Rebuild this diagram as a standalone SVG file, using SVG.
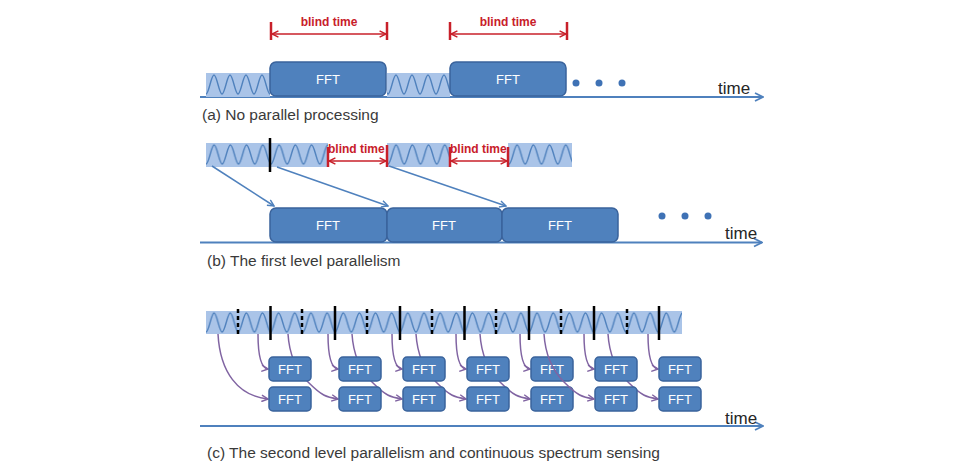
<svg xmlns="http://www.w3.org/2000/svg" width="964" height="464" viewBox="0 0 964 464">
<style>
.wave{fill:none;stroke:#4f81bd;stroke-width:1.4}
.bandbg{fill:#aac4e8}
.fft{fill:#4f81bd;stroke:#3a639c;stroke-width:1.5}
.fftt{font-family:"Liberation Sans",Arial,sans-serif;font-size:13px;fill:#fff;text-anchor:middle}
.axis{fill:none;stroke:#4f81bd;stroke-width:2;marker-end:url(#ahAxis)}
.time{font-family:"Liberation Sans",Arial,sans-serif;font-size:17px;fill:#262626}
.cap{font-family:"Liberation Sans",Arial,sans-serif;font-size:15.5px;fill:#3a3a3a}
.blind{font-family:"Liberation Sans",Arial,sans-serif;font-size:12px;font-weight:bold;fill:#c8202a}
.rbar{stroke:#c8202a;stroke-width:2.5}
.rarr{fill:none;stroke:#c8202a;stroke-width:1.3;marker-start:url(#ahRed);marker-end:url(#ahRed)}
.bconn{fill:none;stroke:#4f81bd;stroke-width:1.5;marker-end:url(#ahBlue)}
.pconn{fill:none;stroke:#8064a2;stroke-width:1.5}
.parr{marker-end:url(#ahPurple)}
.cut{stroke:#000;stroke-width:2.5}
.cutd{stroke:#000;stroke-width:2.5;stroke-dasharray:4 3}
.dot{fill:#3f72b5}
</style>
<defs>
<marker id="ahAxis" viewBox="0 0 10 10" refX="9" refY="5" markerWidth="10" markerHeight="10" markerUnits="userSpaceOnUse" orient="auto"><path d="M1,1 L9,5 L1,9" fill="none" stroke="#4f81bd" stroke-width="1.8"/></marker>
<marker id="ahBlue" viewBox="0 0 10 10" refX="9" refY="5" markerWidth="8" markerHeight="8" markerUnits="userSpaceOnUse" orient="auto"><path d="M1,1 L9,5 L1,9" fill="none" stroke="#4f81bd" stroke-width="1.8"/></marker>
<marker id="ahRed" viewBox="0 0 10 10" refX="9" refY="5" markerWidth="8" markerHeight="8" markerUnits="userSpaceOnUse" orient="auto-start-reverse"><path d="M1,1 L9,5 L1,9" fill="none" stroke="#c8202a" stroke-width="1.8"/></marker>
<marker id="ahPurple" viewBox="0 0 10 10" refX="9" refY="5" markerWidth="8" markerHeight="8" markerUnits="userSpaceOnUse" orient="auto"><path d="M1,1 L9,5 L1,9" fill="none" stroke="#8064a2" stroke-width="1.8"/></marker>
<pattern id="wA1" patternUnits="userSpaceOnUse" x="206" y="73" width="16" height="24"><rect class="bandbg" width="16" height="24"/><path class="wave" d="M0,21 c2.9,0 5.1,-19 8,-19 s5.1,19 8,19"/></pattern>
<pattern id="wA2" patternUnits="userSpaceOnUse" x="388" y="73" width="16" height="24"><rect class="bandbg" width="16" height="24"/><path class="wave" d="M0,21 c2.9,0 5.1,-19 8,-19 s5.1,19 8,19"/></pattern>
<pattern id="wB1" patternUnits="userSpaceOnUse" x="206" y="143" width="16.25" height="24"><rect class="bandbg" width="16.25" height="24"/><path class="wave" d="M0,21 c2.95,0 5.2,-19 8.125,-19 s5.2,19 8.125,19"/></pattern>
<pattern id="wB2" patternUnits="userSpaceOnUse" x="388" y="143" width="16.25" height="24"><rect class="bandbg" width="16.25" height="24"/><path class="wave" d="M0,21 c2.95,0 5.2,-19 8.125,-19 s5.2,19 8.125,19"/></pattern>
<pattern id="wB3" patternUnits="userSpaceOnUse" x="509" y="143" width="16.25" height="24"><rect class="bandbg" width="16.25" height="24"/><path class="wave" d="M0,21 c2.95,0 5.2,-19 8.125,-19 s5.2,19 8.125,19"/></pattern>
<pattern id="wC" patternUnits="userSpaceOnUse" x="206" y="311" width="16.15" height="23"><rect class="bandbg" width="16.15" height="23"/><path class="wave" d="M0,21 c2.9,0 5.2,-19 8.075,-19 s5.2,19 8.075,19"/></pattern>
</defs>
<rect width="964" height="464" fill="#fff"/>

<g id="axes">
<line class="axis" x1="200" y1="97" x2="763" y2="97"/>
<line class="axis" x1="200" y1="242.5" x2="762" y2="242.5"/>
<line class="axis" x1="200" y1="426" x2="763" y2="426"/>
<text class="time" x="718" y="94">time</text>
<text class="time" x="725" y="239">time</text>
<text class="time" x="725" y="424">time</text>
</g>

<g id="captions">
<text class="cap" x="202" y="120">(a) No parallel processing</text>
<text class="cap" x="207" y="266">(b) The first level parallelism</text>
<text class="cap" x="207" y="458">(c) The second level parallelism and continuous spectrum sensing</text>
</g>

<g id="signals">
<rect id="sigA1" x="206" y="73" width="64" height="24" fill="url(#wA1)"/>
<rect id="sigA2" x="387" y="73" width="63" height="24" fill="url(#wA2)"/>
<rect id="sigB1" x="206" y="143" width="122" height="24" fill="url(#wB1)"/>
<rect id="sigB2" x="387" y="143" width="63" height="24" fill="url(#wB2)"/>
<rect id="sigB3" x="508" y="143" width="64" height="24" fill="url(#wB3)"/>
<rect id="sigC" x="206" y="311" width="476" height="23" fill="url(#wC)"/>
</g>

<g id="cuts">
<line class="cut" x1="270" y1="138" x2="270" y2="172"/>
<line class="cut" x1="270.5" y1="306" x2="270.5" y2="340"/>
<line class="cut" x1="335" y1="306" x2="335" y2="340"/>
<line class="cut" x1="400" y1="306" x2="400" y2="340"/>
<line class="cut" x1="464.5" y1="306" x2="464.5" y2="340"/>
<line class="cut" x1="529" y1="306" x2="529" y2="340"/>
<line class="cut" x1="594" y1="306" x2="594" y2="340"/>
<line class="cut" x1="659" y1="306" x2="659" y2="340"/>
<line class="cutd" x1="238" y1="309" x2="238" y2="337"/>
<line class="cutd" x1="302" y1="309" x2="302" y2="337"/>
<line class="cutd" x1="367" y1="309" x2="367" y2="337"/>
<line class="cutd" x1="432" y1="309" x2="432" y2="337"/>
<line class="cutd" x1="496" y1="309" x2="496" y2="337"/>
<line class="cutd" x1="561" y1="309" x2="561" y2="337"/>
<line class="cutd" x1="627" y1="309" x2="627" y2="337"/>
</g>

<g id="blind-times">
<text class="blind" x="329" y="26" text-anchor="middle">blind time</text>
<line class="rbar" x1="271" y1="22" x2="271" y2="40"/>
<line class="rbar" x1="387" y1="22" x2="387" y2="40"/>
<line class="rarr" x1="272" y1="34" x2="386" y2="34"/>
<text class="blind" x="508" y="26" text-anchor="middle">blind time</text>
<line class="rbar" x1="450" y1="22" x2="450" y2="40"/>
<line class="rbar" x1="567" y1="22" x2="567" y2="40"/>
<line class="rarr" x1="451" y1="34" x2="566" y2="34"/>
<text class="blind" x="328" y="153">blind time</text>
<line class="rbar" x1="328" y1="147" x2="328" y2="167"/>
<line class="rbar" x1="387" y1="145" x2="387" y2="167"/>
<line class="rarr" x1="329" y1="161" x2="386" y2="161"/>
<text class="blind" x="450" y="153">blind time</text>
<line class="rbar" x1="450" y1="147" x2="450" y2="167"/>
<line class="rbar" x1="508" y1="147" x2="508" y2="167"/>
<line class="rarr" x1="451" y1="161" x2="507" y2="161"/>
</g>

<g id="connectors">
<line class="bconn" x1="212" y1="166" x2="274" y2="206"/>
<line class="bconn" x1="277" y1="167" x2="388" y2="206"/>
<line class="bconn" x1="389" y1="166" x2="506" y2="206"/>
<path class="pconn parr" d="M218,334 C220,372 238,396 268,399"/>
<path class="pconn parr" d="M258,334 c0,18 2,34 10,35"/>
<path class="pconn parr" d="M328,334 c0,18 2,34 10,35"/>
<path class="pconn parr" d="M392,334 c0,18 2,34 10,35"/>
<path class="pconn parr" d="M456,334 c0,18 2,34 10,35"/>
<path class="pconn parr" d="M520,334 c0,18 2,34 10,35"/>
<path class="pconn parr" d="M584,334 c0,18 2,34 10,35"/>
<path class="pconn parr" d="M648,334 c0,18 2,34 10,35"/>
<path class="pconn parr" d="M288,334 c1,16 6,34 20,48 s18,15 30,17"/>
<path class="pconn parr" d="M352,334 c1,16 6,34 20,48 s18,15 30,17"/>
<path class="pconn parr" d="M416,334 c1,16 6,34 20,48 s18,15 30,17"/>
<path class="pconn parr" d="M480,334 c1,16 6,34 20,48 s18,15 30,17"/>
<path class="pconn parr" d="M608,334 c1,16 6,34 20,48 s18,15 30,17"/>
</g>

<g id="dots">
<circle class="dot" cx="576" cy="83" r="3.5"/>
<circle class="dot" cx="599" cy="83" r="3.5"/>
<circle class="dot" cx="622" cy="83" r="3.5"/>
<circle class="dot" cx="662" cy="216" r="3.5"/>
<circle class="dot" cx="685" cy="216" r="3.5"/>
<circle class="dot" cx="708" cy="216" r="3.5"/>
</g>

<g id="fftA1"><rect class="fft" x="270" y="62" width="116" height="34" rx="6"/><text class="fftt" x="328" y="84">FFT</text></g>
<g id="fftA2"><rect class="fft" x="450" y="62" width="116" height="34" rx="6"/><text class="fftt" x="508" y="84">FFT</text></g>
<g id="fftB1"><rect class="fft" x="270" y="208" width="117" height="34" rx="6"/><text class="fftt" x="328" y="230">FFT</text></g>
<g id="fftB2"><rect class="fft" x="387" y="208" width="115" height="34" rx="6"/><text class="fftt" x="444" y="230">FFT</text></g>
<g id="fftB3"><rect class="fft" x="502" y="208" width="116" height="34" rx="6"/><text class="fftt" x="560" y="230">FFT</text></g>

<g id="fftC1u"><rect class="fft" x="269" y="357" width="42" height="24" rx="4"/><text class="fftt" x="290" y="374">FFT</text></g>
<g id="fftC1l"><rect class="fft" x="269" y="387" width="42" height="24" rx="4"/><text class="fftt" x="290" y="404">FFT</text></g>
<g id="fftC2u"><rect class="fft" x="339" y="357" width="42" height="24" rx="4"/><text class="fftt" x="360" y="374">FFT</text></g>
<g id="fftC2l"><rect class="fft" x="339" y="387" width="42" height="24" rx="4"/><text class="fftt" x="360" y="404">FFT</text></g>
<g id="fftC3u"><rect class="fft" x="403" y="357" width="42" height="24" rx="4"/><text class="fftt" x="424" y="374">FFT</text></g>
<g id="fftC3l"><rect class="fft" x="403" y="387" width="42" height="24" rx="4"/><text class="fftt" x="424" y="404">FFT</text></g>
<g id="fftC4u"><rect class="fft" x="467" y="357" width="42" height="24" rx="4"/><text class="fftt" x="488" y="374">FFT</text></g>
<g id="fftC4l"><rect class="fft" x="467" y="387" width="42" height="24" rx="4"/><text class="fftt" x="488" y="404">FFT</text></g>
<g id="fftC5u"><rect class="fft" x="531" y="357" width="42" height="24" rx="4"/><text class="fftt" x="552" y="374">FFT</text></g>
<g id="fftC5l"><rect class="fft" x="531" y="387" width="42" height="24" rx="4"/><text class="fftt" x="552" y="404">FFT</text></g>
<g id="fftC6u"><rect class="fft" x="595" y="357" width="42" height="24" rx="4"/><text class="fftt" x="616" y="374">FFT</text></g>
<g id="fftC6l"><rect class="fft" x="595" y="387" width="42" height="24" rx="4"/><text class="fftt" x="616" y="404">FFT</text></g>
<g id="fftC7u"><rect class="fft" x="659" y="357" width="42" height="24" rx="4"/><text class="fftt" x="680" y="374">FFT</text></g>
<g id="fftC7l"><rect class="fft" x="659" y="387" width="42" height="24" rx="4"/><text class="fftt" x="680" y="404">FFT</text></g>

<g id="connectors-front">
<path class="pconn parr" d="M544,334 c1,16 6,34 20,48 s18,15 30,17"/>
</g>
</svg>
